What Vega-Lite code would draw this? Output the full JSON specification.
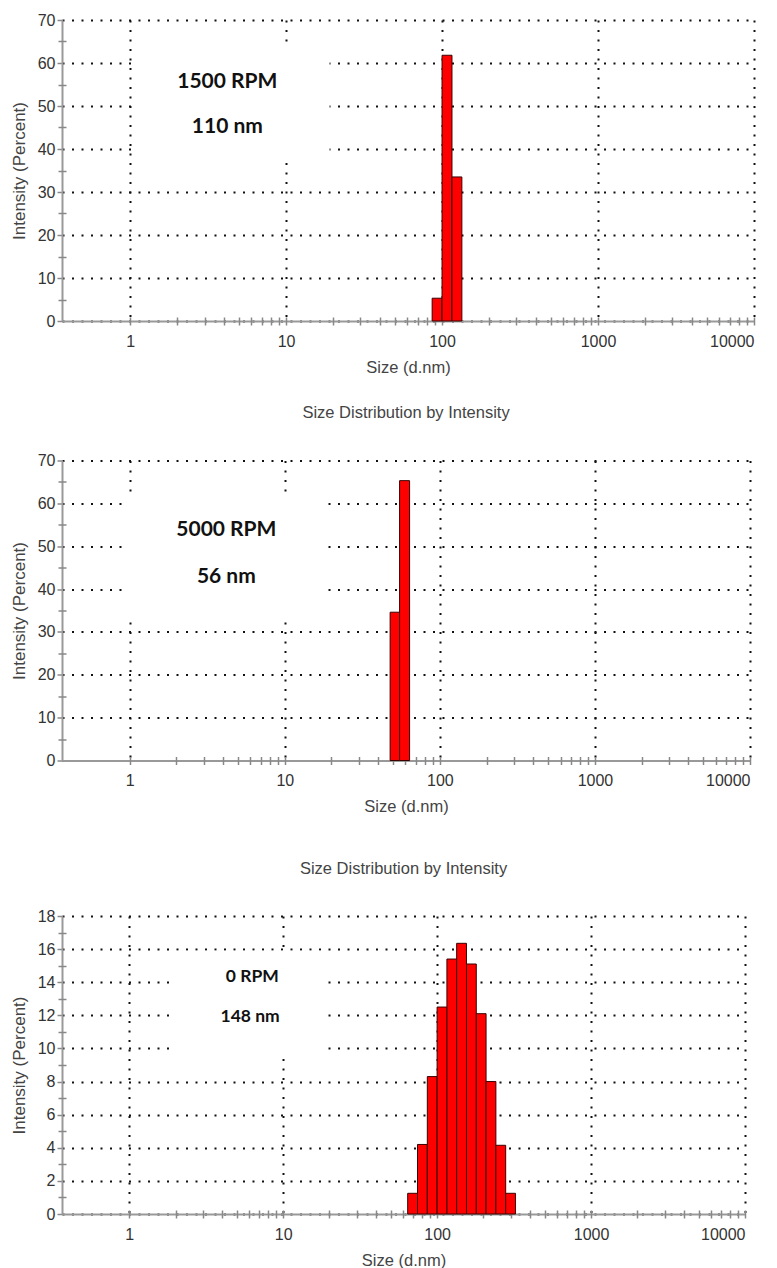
{
  "$schema": "https://vega.github.io/schema/vega-lite/v6.json",
  "padding": {"left": 10, "top": 12, "right": 5, "bottom": 0},
  "background": "white",
  "datasets": {
    "rpm1500": [
      {"size_lo": 86.4, "size_hi": 100, "intensity": 5.3},
      {"size_lo": 100, "size_hi": 115.8, "intensity": 61.8},
      {"size_lo": 115.8, "size_hi": 134, "intensity": 33.5}
    ],
    "rpm5000": [
      {"size_lo": 47.8, "size_hi": 55, "intensity": 34.6},
      {"size_lo": 55, "size_hi": 63.8, "intensity": 65.3}
    ],
    "rpm0": [
      {"size_lo": 64.4, "size_hi": 74.6, "intensity": 1.25},
      {"size_lo": 74.6, "size_hi": 86.4, "intensity": 4.2},
      {"size_lo": 86.4, "size_hi": 100, "intensity": 8.3},
      {"size_lo": 100, "size_hi": 115.8, "intensity": 12.5},
      {"size_lo": 115.8, "size_hi": 134, "intensity": 15.4},
      {"size_lo": 134, "size_hi": 155.2, "intensity": 16.35},
      {"size_lo": 155.2, "size_hi": 179.7, "intensity": 15.1},
      {"size_lo": 179.7, "size_hi": 208, "intensity": 12.1},
      {"size_lo": 208, "size_hi": 240.9, "intensity": 8.0},
      {"size_lo": 240.9, "size_hi": 278.9, "intensity": 4.15},
      {"size_lo": 278.9, "size_hi": 322.9, "intensity": 1.25}
    ]
  },
  "spacing": 28.5,
  "vconcat": [
    {
      "width": 692,
      "height": 301,
      "data": {"name": "rpm1500"},
      "resolve": {"axis": {"x": "independent", "y": "independent"}},
      "layer": [
        {
          "data": {"values": [{}]},
          "mark": {"type": "rect", "fill": "white"},
          "encoding": {
            "x": {"datum": 1.05, "type": "quantitative", "scale": {"type": "log", "domain": [0.366, 10000], "nice": false}, "axis": null},
            "x2": {"datum": 19},
            "y": {"datum": 37, "type": "quantitative", "scale": {"domain": [0, 70], "nice": false}, "axis": null},
            "y2": {"datum": 63.4}
          }
        },
        {
          "mark": {"type": "rect", "fill": "#ff0000", "stroke": "#3a0000", "strokeWidth": 1},
          "encoding": {
            "x": {"field": "size_lo", "type": "quantitative", "axis": {"orient": "bottom", "values": [1, 10, 100, 1000, 10000], "format": "d", "grid": true, "tickSize": 0, "labelPadding": 12, "title": "Size (d.nm)", "titleFontSize": 16.5, "titlePadding": 10}},
            "x2": {"field": "size_hi"},
            "y": {"field": "intensity", "type": "quantitative", "axis": {"orient": "left", "values": [0, 10, 20, 30, 40, 50, 60, 70], "grid": true, "tickSize": 5, "labelPadding": 2, "title": "Intensity (Percent)", "titleFontSize": 17, "titlePadding": 9}},
            "y2": {"datum": 0}
          }
        },
        {
          "data": {"values": [{}]},
          "mark": {"type": "text", "text": "1500 RPM", "font": "Lato", "fontWeight": "bold", "fontSize": 21, "color": "#111"},
          "encoding": {
            "x": {"datum": 4.2, "type": "quantitative", "axis": null},
            "y": {"datum": 55.6, "type": "quantitative", "axis": null}
          }
        },
        {
          "data": {"values": [{}]},
          "mark": {"type": "text", "text": "110 nm", "font": "Lato", "fontWeight": "bold", "fontSize": 21, "color": "#111"},
          "encoding": {
            "x": {"datum": 4.2, "type": "quantitative", "axis": null},
            "y": {"datum": 45.1, "type": "quantitative", "axis": null}
          }
        },
        {
          "data": {"values": [{}]},
          "mark": {"type": "point", "opacity": 0},
          "encoding": {
            "x": {"datum": 1, "type": "quantitative", "axis": {"orient": "bottom", "values": [1, 2, 3, 4, 5, 6, 7, 8, 9, 10, 20, 30, 40, 50, 60, 70, 80, 90, 100, 200, 300, 400, 500, 600, 700, 800, 900, 1000, 2000, 3000, 4000, 5000, 6000, 7000, 8000, 9000, 10000], "offset": -4, "tickSize": 8, "labels": false, "domain": false, "grid": false, "title": null}},
            "y": {"datum": 0, "type": "quantitative", "axis": {"orient": "left", "values": [5, 15, 25, 35, 45, 55, 65], "offset": -4, "tickSize": 8, "labels": false, "domain": false, "grid": false, "title": null}}
          }
        }
      ]
    },
    {
      "width": 688,
      "height": 300,
      "title": {"text": "Size Distribution by Intensity", "offset": 31},
      "data": {"name": "rpm5000"},
      "resolve": {"axis": {"x": "independent", "y": "independent"}},
      "layer": [
        {
          "data": {"values": [{}]},
          "mark": {"type": "rect", "fill": "white"},
          "encoding": {
            "x": {"datum": 0.94, "type": "quantitative", "scale": {"type": "log", "domain": [0.366, 10000], "nice": false}, "axis": null},
            "x2": {"datum": 19},
            "y": {"datum": 32.5, "type": "quantitative", "scale": {"domain": [0, 70], "nice": false}, "axis": null},
            "y2": {"datum": 61}
          }
        },
        {
          "mark": {"type": "rect", "fill": "#ff0000", "stroke": "#3a0000", "strokeWidth": 1},
          "encoding": {
            "x": {"field": "size_lo", "type": "quantitative", "axis": {"orient": "bottom", "values": [1, 10, 100, 1000, 10000], "format": "d", "grid": true, "tickSize": 0, "labelPadding": 12, "title": ["Size (d.nm)", ""], "titleLineHeight": 16, "titleFontSize": 16.5, "titlePadding": 10}},
            "x2": {"field": "size_hi"},
            "y": {"field": "intensity", "type": "quantitative", "axis": {"orient": "left", "values": [0, 10, 20, 30, 40, 50, 60, 70], "grid": true, "tickSize": 5, "labelPadding": 2, "title": "Intensity (Percent)", "titleFontSize": 17, "titlePadding": 9}},
            "y2": {"datum": 0}
          }
        },
        {
          "data": {"values": [{}]},
          "mark": {"type": "text", "text": "5000 RPM", "font": "Lato", "fontWeight": "bold", "fontSize": 21, "color": "#111"},
          "encoding": {
            "x": {"datum": 4.2, "type": "quantitative", "axis": null},
            "y": {"datum": 53.7, "type": "quantitative", "axis": null}
          }
        },
        {
          "data": {"values": [{}]},
          "mark": {"type": "text", "text": "56 nm", "font": "Lato", "fontWeight": "bold", "fontSize": 21, "color": "#111"},
          "encoding": {
            "x": {"datum": 4.2, "type": "quantitative", "axis": null},
            "y": {"datum": 42.9, "type": "quantitative", "axis": null}
          }
        },
        {
          "data": {"values": [{}]},
          "mark": {"type": "point", "opacity": 0},
          "encoding": {
            "x": {"datum": 1, "type": "quantitative", "axis": {"orient": "bottom", "values": [1, 2, 3, 4, 5, 6, 7, 8, 9, 10, 20, 30, 40, 50, 60, 70, 80, 90, 100, 200, 300, 400, 500, 600, 700, 800, 900, 1000, 2000, 3000, 4000, 5000, 6000, 7000, 8000, 9000, 10000], "offset": -4, "tickSize": 8, "labels": false, "domain": false, "grid": false, "title": null}},
            "y": {"datum": 0, "type": "quantitative", "axis": {"orient": "left", "values": [5, 15, 25, 35, 45, 55, 65], "offset": -4, "tickSize": 8, "labels": false, "domain": false, "grid": false, "title": null}}
          }
        }
      ]
    },
    {
      "width": 683,
      "height": 298,
      "title": {"text": "Size Distribution by Intensity", "offset": 31},
      "data": {"name": "rpm0"},
      "resolve": {"axis": {"x": "independent", "y": "independent"}},
      "layer": [
        {
          "data": {"values": [{}]},
          "mark": {"type": "rect", "fill": "white"},
          "encoding": {
            "x": {"datum": 1.89, "type": "quantitative", "scale": {"type": "log", "domain": [0.366, 10000], "nice": false}, "axis": null},
            "x2": {"datum": 19},
            "y": {"datum": 9.5, "type": "quantitative", "scale": {"domain": [0, 18], "nice": false}, "axis": null},
            "y2": {"datum": 15.9}
          }
        },
        {
          "mark": {"type": "rect", "fill": "#ff0000", "stroke": "#3a0000", "strokeWidth": 1},
          "encoding": {
            "x": {"field": "size_lo", "type": "quantitative", "axis": {"orient": "bottom", "values": [1, 10, 100, 1000, 10000], "format": "d", "grid": true, "tickSize": 0, "labelPadding": 12, "title": "Size (d.nm)", "titleFontSize": 16.5, "titlePadding": 10}},
            "x2": {"field": "size_hi"},
            "y": {"field": "intensity", "type": "quantitative", "axis": {"orient": "left", "values": [0, 2, 4, 6, 8, 10, 12, 14, 16, 18], "grid": true, "tickSize": 5, "labelPadding": 2, "title": "Intensity (Percent)", "titleFontSize": 17, "titlePadding": 9}},
            "y2": {"datum": 0}
          }
        },
        {
          "data": {"values": [{}]},
          "mark": {"type": "text", "text": "0 RPM", "font": "Lato", "fontWeight": "bold", "fontSize": 17.5, "color": "#111"},
          "encoding": {
            "x": {"datum": 6.3, "type": "quantitative", "axis": null},
            "y": {"datum": 14.33, "type": "quantitative", "axis": null}
          }
        },
        {
          "data": {"values": [{}]},
          "mark": {"type": "text", "text": "148 nm", "font": "Lato", "fontWeight": "bold", "fontSize": 17.5, "color": "#111"},
          "encoding": {
            "x": {"datum": 6.1, "type": "quantitative", "axis": null},
            "y": {"datum": 11.92, "type": "quantitative", "axis": null}
          }
        },
        {
          "data": {"values": [{}]},
          "mark": {"type": "point", "opacity": 0},
          "encoding": {
            "x": {"datum": 1, "type": "quantitative", "axis": {"orient": "bottom", "values": [1, 2, 3, 4, 5, 6, 7, 8, 9, 10, 20, 30, 40, 50, 60, 70, 80, 90, 100, 200, 300, 400, 500, 600, 700, 800, 900, 1000, 2000, 3000, 4000, 5000, 6000, 7000, 8000, 9000, 10000], "offset": -4, "tickSize": 8, "labels": false, "domain": false, "grid": false, "title": null}},
            "y": {"datum": 0, "type": "quantitative", "axis": {"orient": "left", "values": [1, 3, 5, 7, 9, 11, 13, 15, 17], "offset": -4, "tickSize": 8, "labels": false, "domain": false, "grid": false, "title": null}}
          }
        }
      ]
    }
  ],
  "config": {
    "view": {"stroke": null},
    "font": "Liberation Sans",
    "axis": {
      "labelFont": "Liberation Sans",
      "labelFontSize": 16,
      "labelColor": "#333",
      "titleFont": "Liberation Sans",
      "titleFontWeight": "normal",
      "titleColor": "#444",
      "domainColor": "#999",
      "domainWidth": 2,
      "tickColor": "#888",
      "tickWidth": 1.5,
      "gridColor": "#111",
      "gridDash": [2, 7.5],
      "gridWidth": 2,
      "gridOpacity": 1
    },
    "title": {"font": "Liberation Sans", "fontSize": 16.5, "fontWeight": "normal", "color": "#444", "anchor": "middle"}
  }
}
